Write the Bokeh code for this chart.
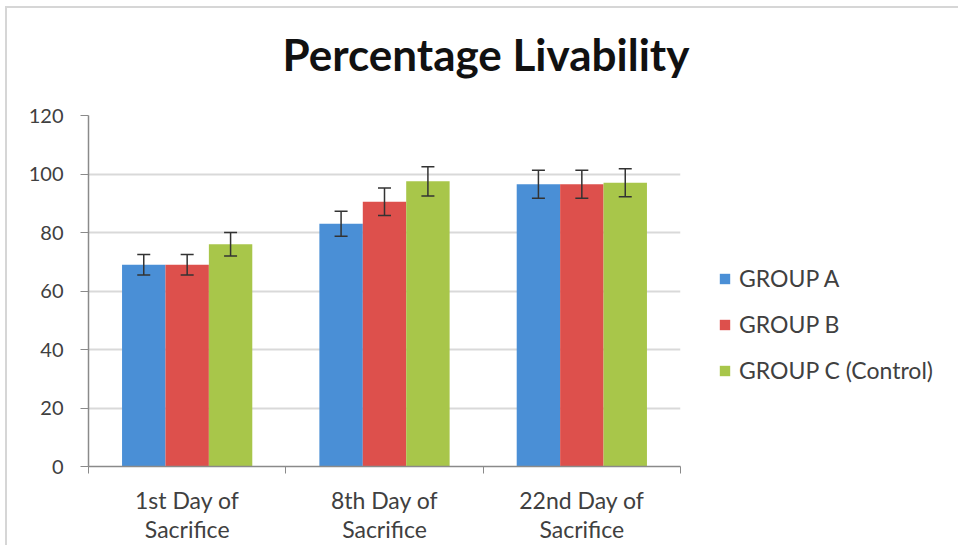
from bokeh.plotting import figure
from bokeh.models import (ColumnDataSource, Range1d, FixedTicker, Whisker, TeeHead,
                          Legend, LegendItem, Title)
from bokeh.embed import file_html
from bokeh.resources import INLINE

categories = ["1st Day of\nSacrifice", "8th Day of\nSacrifice", "22nd Day of\nSacrifice"]
series_names = ["GROUP A", "GROUP B", "GROUP C (Control)"]
group_a = [69, 83, 96.5]
group_b = [69, 90.5, 96.5]
group_c = [76, 97.5, 97]
err_a = [3.5, 4.3, 4.8]
err_b = [3.5, 4.7, 4.8]
err_c = [4.0, 5.0, 4.8]
y_ticks = [0, 20, 40, 60, 80, 100, 120]

colors = ["#4A8FD6", "#DD504C", "#A8C64A"]
FONT = "Lato"

p = figure(frame_width=592, frame_height=351, output_backend="svg", toolbar_location=None,
           x_range=Range1d(0, 3), y_range=Range1d(0, 120),
           min_border_left=88, min_border_right=0, min_border_top=115,
           min_border_bottom=78)
p.outline_line_color = None
p.background_fill_color = "white"
p.border_fill_color = None
p.styles = {"background": ("linear-gradient(#d6d6d6,#d6d6d6) 5px 6px / 2px 100% no-repeat, "
                           "linear-gradient(#d6d6d6,#d6d6d6) 5px 6px / 100% 2px no-repeat, white")}

# spacer (closest to the frame) then the real title above it
spacer = Title(text=" ", text_font_size="1px", standoff=33)
p.add_layout(spacer, "above")
title = Title(text="Percentage Livability", align="left", offset=194,
              text_font=FONT, text_font_size="44px", text_font_style="bold",
              text_color="#111111", standoff=0)
p.add_layout(title, "above")

bar_w = 0.22
offsets = [-bar_w, 0.0, bar_w]
renderers = []
for vals, errs, off, col in zip([group_a, group_b, group_c], [err_a, err_b, err_c], offsets, colors):
    xs = [i + 0.5 + off for i in range(len(categories))]
    src = ColumnDataSource(dict(x=xs, top=vals,
                                upper=[v + e for v, e in zip(vals, errs)],
                                lower=[v - e for v, e in zip(vals, errs)]))
    r = p.vbar(x="x", top="top", width=bar_w, source=src, fill_color=col, line_color=None)
    renderers.append(r)
    wk = Whisker(base="x", upper="upper", lower="lower", source=src,
                 line_color="#333333", line_width=1.5, level="overlay",
                 upper_head=TeeHead(size=13, line_color="#333333", line_width=1.5),
                 lower_head=TeeHead(size=13, line_color="#333333", line_width=1.5))
    p.add_layout(wk)

# axes
p.xaxis.ticker = FixedTicker(ticks=[i + 0.5 for i in range(len(categories))],
                             minor_ticks=list(range(len(categories) + 1)))
p.xaxis.major_label_overrides = {i + 0.5: c for i, c in enumerate(categories)}
p.xaxis.major_tick_line_color = None
p.xaxis.minor_tick_in = 0
p.xaxis.minor_tick_out = 7
p.xaxis.minor_tick_line_color = "#8a8a8a"
p.xaxis.axis_line_color = "#8a8a8a"
p.xaxis.axis_line_width = 1.5
p.xaxis.major_label_text_font = FONT
p.xaxis.major_label_text_font_size = "23px"
p.xaxis.major_label_text_line_height = 1.05
p.xaxis.major_label_text_color = "#404040"
p.xaxis.major_label_standoff = 12

p.yaxis.ticker = FixedTicker(ticks=y_ticks)
p.yaxis.minor_tick_line_color = None
p.yaxis.major_tick_in = 0
p.yaxis.major_tick_out = 8
p.yaxis.major_tick_line_color = "#8a8a8a"
p.yaxis.axis_line_color = "#8a8a8a"
p.yaxis.axis_line_width = 1.5
p.yaxis.major_label_text_font = FONT
p.yaxis.major_label_text_font_size = "20px"
p.yaxis.major_label_text_color = "#404040"
p.yaxis.major_label_standoff = 17

p.xgrid.grid_line_color = None
p.ygrid.grid_line_color = "#d9d9d9"
p.ygrid.grid_line_width = 2

legend = Legend(items=[LegendItem(label=n, renderers=[r]) for n, r in zip(series_names, renderers)],
                location=(38, 82), padding=0, margin=0, border_line_color=None,
                background_fill_alpha=0, glyph_width=13, glyph_height=13,
                label_height=20, spacing=18, label_standoff=8,
                label_text_font=FONT, label_text_font_size="23px",
                label_text_color="#404040")
p.add_layout(legend, "right")

open("out.html", "w").write(file_html(p, INLINE))
